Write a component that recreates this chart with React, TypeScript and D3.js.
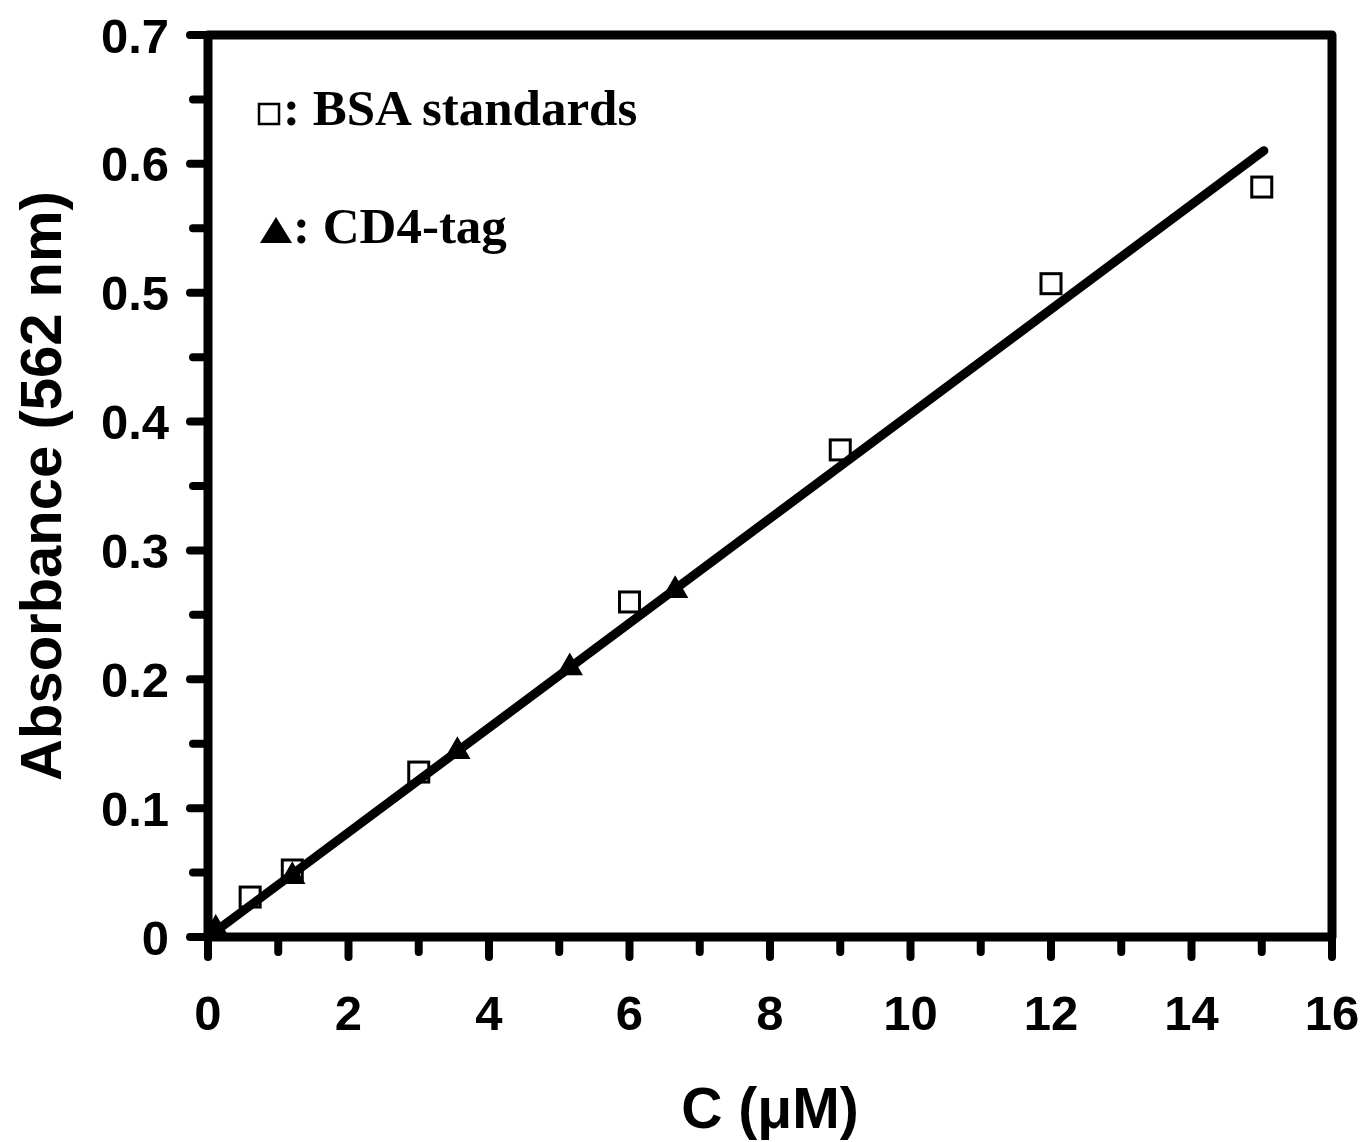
import React from "react";
import * as d3 from "d3";

// BSA standards (open squares)
const bsaConc = [0.6, 1.2, 3, 6, 9, 12, 15];
const bsaAbs = [0.031, 0.052, 0.128, 0.26, 0.378, 0.507, 0.582];

// CD4-tag samples (filled triangles)
const cd4Conc = [0.11, 1.2, 3.55, 5.15, 6.65];
const cd4Abs = [0.006, 0.047, 0.144, 0.209, 0.269];

// linear fit through the standards
const fitSlope = 0.0406;
const fitIntercept = 0.0;
const fitRange = [0.03, 15.03];

const xTicks = [0, 2, 4, 6, 8, 10, 12, 14, 16];
const xMinor = [1, 3, 5, 7, 9, 11, 13, 15];
const yTicks = [0, 0.1, 0.2, 0.3, 0.4, 0.5, 0.6, 0.7];
const yMinor = [0.05, 0.15, 0.25, 0.35, 0.45, 0.55, 0.65];

const W = 1365;
const H = 1142;
const margin = { top: 35, right: 33, bottom: 205, left: 208 };
const sans = "'Liberation Sans', Arial, Helvetica, sans-serif";
const serif = "'Liberation Serif', 'Times New Roman', serif";

export default function App() {
  const x = d3.scaleLinear().domain([0, 16]).range([margin.left, W - margin.right]);
  const y = d3.scaleLinear().domain([0, 0.7]).range([H - margin.bottom, margin.top]);

  const line = d3
    .line<number>()
    .x((d) => x(d))
    .y((d) => y(fitSlope * d + fitIntercept));

  const tri = d3.symbol().type(d3.symbolTriangle).size(300)() as string;
  const sq = 20;

  const x0 = x(0);
  const x1 = x(16);
  const y0 = y(0);
  const y1 = y(0.7);

  return (
    <div style={{ position: "absolute", left: 0, top: 0 }}>
      <svg width={W} height={H} style={{ display: "block", background: "#fff" }}>
        {/* frame */}
        <path
          d={`M${x0},${y1}L${x1},${y1}L${x1},${y0}L${x0},${y0}Z`}
          fill="none"
          stroke="#000"
          strokeWidth={9}
          strokeLinejoin="round"
        />
        {/* x ticks */}
        {xTicks.map((t) => (
          <g key={"xt" + t}>
            <line x1={x(t)} x2={x(t)} y1={y0} y2={y0 + 20} stroke="#000" strokeWidth={8} strokeLinecap="round" />
            <text x={x(t)} y={y0 + 93} textAnchor="middle" fontFamily={sans} fontWeight="bold" fontSize={49}>
              {t}
            </text>
          </g>
        ))}
        {xMinor.map((t) => (
          <line key={"xm" + t} x1={x(t)} x2={x(t)} y1={y0} y2={y0 + 15} stroke="#000" strokeWidth={8} strokeLinecap="round" />
        ))}
        {/* y ticks */}
        {yTicks.map((t) => (
          <g key={"yt" + t}>
            <line x1={x0} x2={x0 - 18} y1={y(t)} y2={y(t)} stroke="#000" strokeWidth={8} strokeLinecap="round" />
            <text
              x={x0 - 39}
              y={y(t)}
              dy="0.36em"
              textAnchor="end"
              fontFamily={sans}
              fontWeight="bold"
              fontSize={49}
            >
              {t === 0 ? "0" : t.toFixed(1)}
            </text>
          </g>
        ))}
        {yMinor.map((t) => (
          <line key={"ym" + t} x1={x0} x2={x0 - 15} y1={y(t)} y2={y(t)} stroke="#000" strokeWidth={8} strokeLinecap="round" />
        ))}

        {/* fit line */}
        <path d={line(fitRange) || ""} fill="none" stroke="#000" strokeWidth={9} strokeLinecap="round" />

        {/* BSA squares */}
        {bsaConc.map((c, i) => (
          <rect
            key={"b" + i}
            x={x(c) - sq / 2}
            y={y(bsaAbs[i]) - sq / 2}
            width={sq}
            height={sq}
            fill="none"
            stroke="#000"
            strokeWidth={3}
          />
        ))}
        {/* CD4 triangles */}
        {cd4Conc.map((c, i) => (
          <path key={"c" + i} d={tri} transform={`translate(${x(c)},${y(cd4Abs[i])})`} fill="#000" />
        ))}

        {/* legend */}
        <rect x={259} y={104} width={20} height={20} fill="#fff" stroke="#000" strokeWidth={2.5} />
        <text x={283} y={125} fontFamily={serif} fontWeight="bold" fontSize={51}>
          : BSA standards
        </text>
        <path d="M260,243L292,243L276,217Z" fill="#000" />
        <text x={293} y={243} fontFamily={serif} fontWeight="bold" fontSize={51}>
          : CD4-tag
        </text>

        {/* axis titles */}
        <text
          x={(x0 + x1) / 2}
          y={1128}
          textAnchor="middle"
          fontFamily={sans}
          fontWeight="bold"
          fontSize={57}
        >
          C (μM)
        </text>
        <text
          transform={`translate(61,${(y0 + y1) / 2}) rotate(-90)`}
          textAnchor="middle"
          fontFamily={sans}
          fontWeight="bold"
          fontSize={58}
        >
          Absorbance (562 nm)
        </text>
      </svg>
    </div>
  );
}
